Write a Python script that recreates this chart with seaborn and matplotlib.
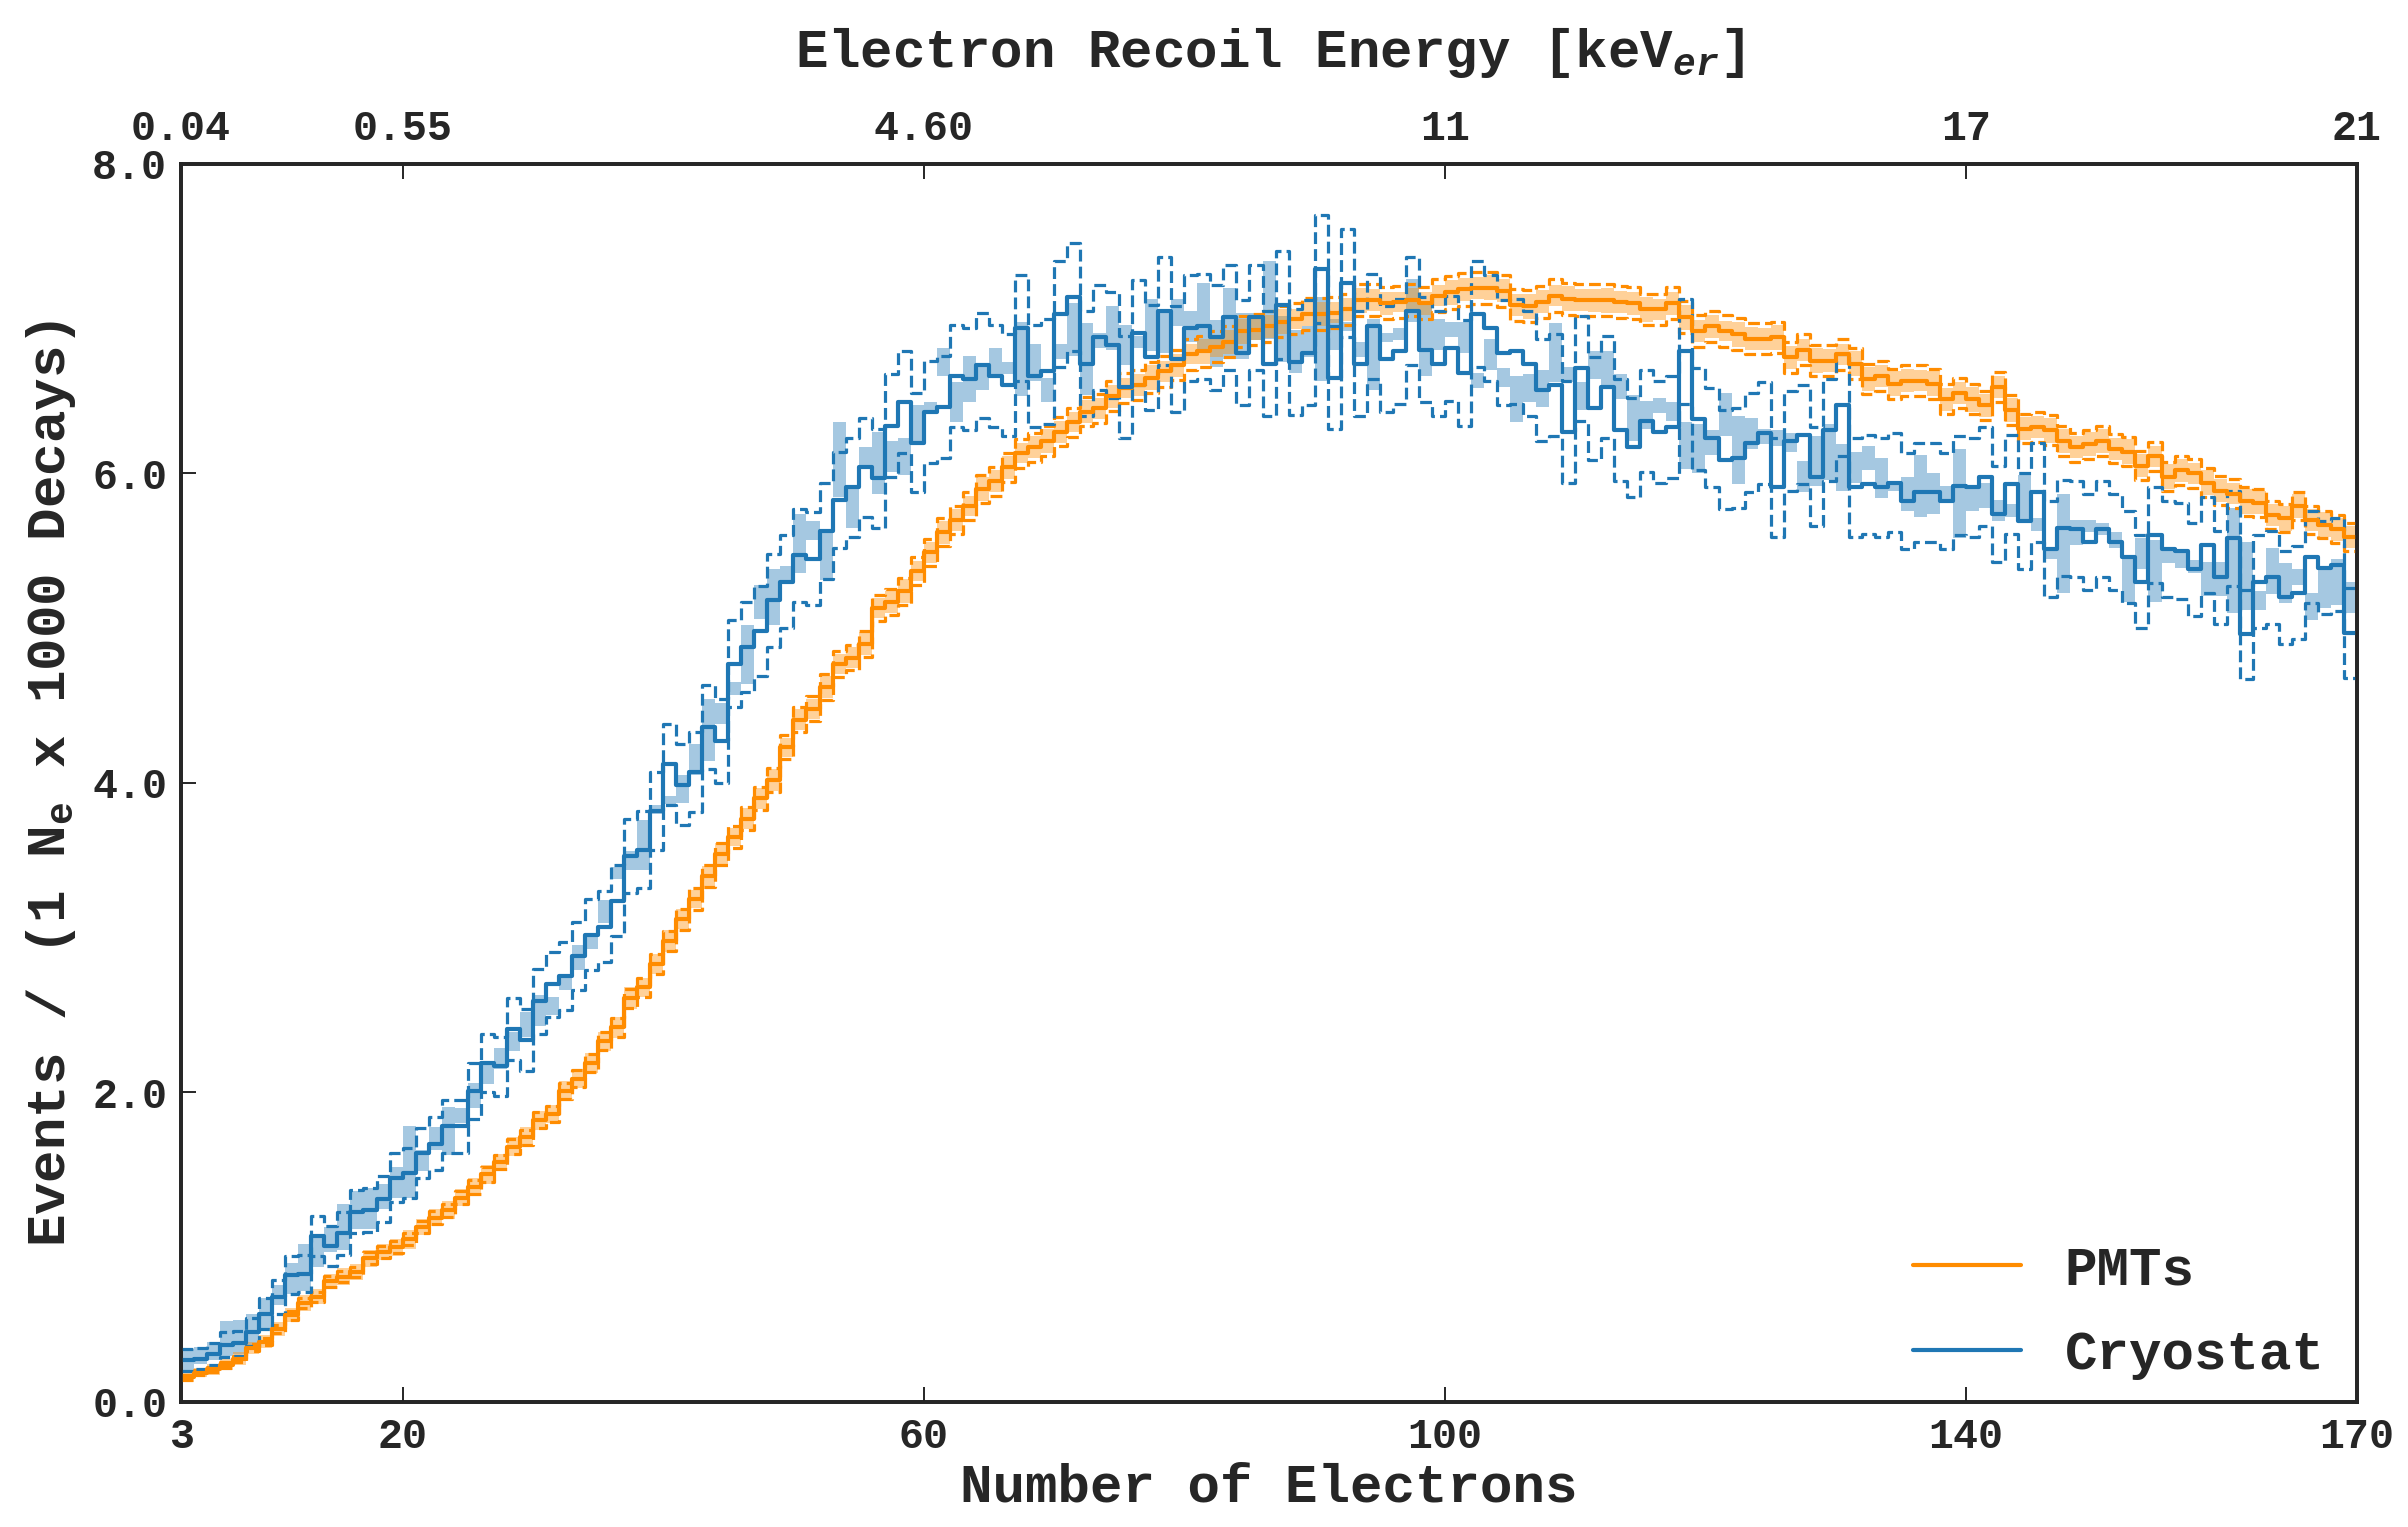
import numpy as np
import pandas as pd
import matplotlib
matplotlib.use("Agg")
import matplotlib.pyplot as plt
from matplotlib.lines import Line2D
import seaborn as sns

# ---------------- data ----------------
bin_edges_start = 3
bin_edges_stop = 170

pmt_val = [0.16, 0.19, 0.21, 0.24, 0.28, 0.35, 0.39, 0.47, 0.56, 0.64,
           0.68, 0.78, 0.81, 0.84, 0.93, 0.97, 1.00, 1.05, 1.13, 1.19,
           1.24, 1.32, 1.39, 1.47, 1.55, 1.65, 1.71, 1.82, 1.86, 2.01,
           2.09, 2.19, 2.33, 2.42, 2.61, 2.68, 2.83, 2.98, 3.12, 3.25,
           3.40, 3.54, 3.65, 3.77, 3.90, 4.02, 4.23, 4.41, 4.48, 4.62,
           4.77, 4.81, 4.90, 5.13, 5.17, 5.24, 5.37, 5.49, 5.62, 5.70,
           5.79, 5.90, 5.95, 6.04, 6.13, 6.17, 6.21, 6.27, 6.33, 6.40,
           6.42, 6.50, 6.55, 6.57, 6.62, 6.66, 6.70, 6.77, 6.79, 6.82,
           6.85, 6.92, 6.93, 6.95, 6.98, 7.00, 7.03, 7.03, 7.04, 7.06,
           7.12, 7.12, 7.10, 7.11, 7.12, 7.10, 7.15, 7.17, 7.19, 7.20,
           7.20, 7.18, 7.09, 7.08, 7.11, 7.15, 7.13, 7.12, 7.12, 7.12,
           7.11, 7.10, 7.06, 7.06, 7.10, 7.01, 6.92, 6.95, 6.92, 6.90,
           6.87, 6.87, 6.88, 6.75, 6.80, 6.73, 6.73, 6.77, 6.71, 6.61,
           6.63, 6.58, 6.60, 6.60, 6.58, 6.48, 6.52, 6.48, 6.44, 6.56,
           6.41, 6.29, 6.30, 6.28, 6.21, 6.17, 6.19, 6.21, 6.16, 6.14,
           6.05, 6.11, 5.98, 6.02, 6.00, 5.94, 5.89, 5.87, 5.82, 5.81,
           5.73, 5.71, 5.79, 5.70, 5.67, 5.64, 5.59]

pmt_err = [0.015, 0.017, 0.018, 0.019, 0.020, 0.022, 0.024, 0.026, 0.028, 0.030,
           0.031, 0.034, 0.034, 0.035, 0.037, 0.037, 0.038, 0.039, 0.040, 0.041,
           0.042, 0.044, 0.045, 0.046, 0.047, 0.049, 0.050, 0.051, 0.052, 0.054,
           0.055, 0.056, 0.058, 0.059, 0.061, 0.062, 0.064, 0.066, 0.067, 0.069,
           0.070, 0.072, 0.073, 0.074, 0.075, 0.076, 0.078, 0.080, 0.080, 0.082,
           0.083, 0.083, 0.084, 0.086, 0.086, 0.087, 0.088, 0.089, 0.090, 0.091,
           0.091, 0.092, 0.093, 0.093, 0.094, 0.094, 0.095, 0.095, 0.096, 0.096,
           0.096, 0.097, 0.097, 0.097, 0.098, 0.098, 0.098, 0.099, 0.099, 0.099,
           0.100, 0.100, 0.100, 0.101, 0.101, 0.101, 0.102, 0.102, 0.102, 0.103,
           0.104, 0.104, 0.104, 0.104, 0.104, 0.104, 0.105, 0.105, 0.105, 0.105,
           0.105, 0.105, 0.104, 0.104, 0.104, 0.104, 0.104, 0.104, 0.104, 0.104,
           0.104, 0.104, 0.103, 0.103, 0.103, 0.103, 0.102, 0.102, 0.102, 0.102,
           0.101, 0.101, 0.101, 0.100, 0.100, 0.099, 0.099, 0.099, 0.098, 0.098,
           0.098, 0.097, 0.098, 0.098, 0.097, 0.097, 0.097, 0.097, 0.096, 0.097,
           0.096, 0.095, 0.095, 0.095, 0.095, 0.094, 0.094, 0.095, 0.094, 0.094,
           0.093, 0.094, 0.093, 0.093, 0.093, 0.093, 0.092, 0.092, 0.092, 0.092,
           0.091, 0.091, 0.091, 0.091, 0.090, 0.090, 0.090]

pmt_sys = [0.030, 0.030, 0.035, 0.035, 0.040, 0.040, 0.040, 0.045, 0.045, 0.050,
           0.050, 0.050, 0.055, 0.050, 0.055, 0.050, 0.055, 0.060, 0.050, 0.055,
           0.060, 0.055, 0.060, 0.060, 0.055, 0.060, 0.065, 0.060, 0.060, 0.065,
           0.060, 0.065, 0.060, 0.065, 0.070, 0.060, 0.065, 0.070, 0.065, 0.060,
           0.065, 0.070, 0.060, 0.070, 0.065, 0.070, 0.060, 0.070, 0.065, 0.070,
           0.065, 0.070, 0.075, 0.065, 0.070, 0.075, 0.065, 0.070, 0.075, 0.070,
           0.065, 0.075, 0.070, 0.075, 0.065, 0.070, 0.075, 0.070, 0.065, 0.075,
           0.070, 0.075, 0.065, 0.070, 0.080, 0.070, 0.075, 0.065, 0.080, 0.070,
           0.075, 0.080, 0.070, 0.075, 0.080, 0.065, 0.075, 0.080, 0.070, 0.075,
           0.080, 0.070, 0.075, 0.065, 0.080, 0.075, 0.070, 0.080, 0.075, 0.070,
           0.080, 0.075, 0.070, 0.080, 0.075, 0.065, 0.080, 0.070, 0.075, 0.080,
           0.070, 0.075, 0.080, 0.070, 0.075, 0.080, 0.070, 0.075, 0.065, 0.080,
           0.075, 0.070, 0.080, 0.075, 0.070, 0.080, 0.075, 0.070, 0.080, 0.075,
           0.070, 0.080, 0.075, 0.070, 0.080, 0.075, 0.070, 0.080, 0.075, 0.070,
           0.080, 0.075, 0.070, 0.080, 0.075, 0.070, 0.080, 0.075, 0.070, 0.080,
           0.075, 0.070, 0.080, 0.075, 0.070, 0.080, 0.075, 0.070, 0.080, 0.075,
           0.070, 0.080, 0.075, 0.070, 0.080, 0.075, 0.070]

cryo_val = [0.27, 0.28, 0.31, 0.37, 0.38, 0.45, 0.57, 0.68, 0.82, 0.83,
            1.07, 1.01, 1.09, 1.23, 1.24, 1.31, 1.45, 1.48, 1.61, 1.67,
            1.78, 1.78, 2.01, 2.19, 2.17, 2.41, 2.34, 2.59, 2.70, 2.75,
            2.88, 3.02, 3.07, 3.24, 3.53, 3.57, 3.82, 4.12, 3.99, 4.07,
            4.36, 4.27, 4.77, 4.88, 4.98, 5.18, 5.30, 5.47, 5.45, 5.63,
            5.83, 5.91, 6.04, 5.97, 6.31, 6.46, 6.20, 6.40, 6.43, 6.63,
            6.61, 6.70, 6.63, 6.57, 6.94, 6.63, 6.66, 7.03, 7.14, 6.71,
            6.88, 6.83, 6.56, 6.91, 6.75, 7.05, 6.74, 6.94, 6.95, 6.88,
            7.01, 6.78, 7.01, 6.71, 7.09, 6.72, 6.78, 7.32, 6.62, 7.23,
            6.71, 6.95, 6.74, 6.79, 7.05, 6.80, 6.71, 6.81, 6.65, 7.03,
            6.94, 6.78, 6.79, 6.71, 6.54, 6.57, 6.27, 6.68, 6.42, 6.56,
            6.28, 6.17, 6.34, 6.27, 6.30, 6.79, 6.35, 6.23, 6.09, 6.10,
            6.20, 6.26, 5.91, 6.21, 6.25, 5.98, 6.28, 6.44, 5.91, 5.93,
            5.91, 5.94, 5.82, 5.88, 5.88, 5.82, 5.92, 5.91, 5.98, 5.74,
            5.93, 5.69, 5.88, 5.51, 5.65, 5.64, 5.56, 5.64, 5.56, 5.46,
            5.30, 5.60, 5.51, 5.50, 5.38, 5.54, 5.33, 5.58, 4.96, 5.30,
            5.33, 5.20, 5.23, 5.46, 5.39, 5.41, 4.97]

cryo_err = [0.07, 0.07, 0.07, 0.08, 0.08, 0.09, 0.10, 0.11, 0.12, 0.12,
            0.13, 0.13, 0.14, 0.14, 0.14, 0.15, 0.16, 0.16, 0.16, 0.17,
            0.17, 0.17, 0.18, 0.19, 0.19, 0.20, 0.20, 0.21, 0.21, 0.22,
            0.22, 0.23, 0.23, 0.23, 0.24, 0.25, 0.25, 0.26, 0.26, 0.26,
            0.27, 0.27, 0.28, 0.29, 0.29, 0.30, 0.30, 0.30, 0.30, 0.31,
            0.31, 0.32, 0.32, 0.32, 0.33, 0.33, 0.32, 0.33, 0.33, 0.33,
            0.33, 0.34, 0.33, 0.33, 0.34, 0.33, 0.34, 0.34, 0.35, 0.34,
            0.34, 0.34, 0.33, 0.34, 0.34, 0.35, 0.34, 0.34, 0.34, 0.34,
            0.34, 0.34, 0.34, 0.34, 0.35, 0.34, 0.34, 0.35, 0.33, 0.35,
            0.34, 0.34, 0.34, 0.34, 0.35, 0.34, 0.34, 0.34, 0.34, 0.34,
            0.34, 0.34, 0.34, 0.34, 0.33, 0.33, 0.33, 0.34, 0.33, 0.33,
            0.33, 0.32, 0.33, 0.33, 0.33, 0.34, 0.33, 0.32, 0.32, 0.32,
            0.32, 0.33, 0.32, 0.32, 0.32, 0.32, 0.33, 0.33, 0.32, 0.32,
            0.32, 0.32, 0.31, 0.32, 0.32, 0.31, 0.32, 0.32, 0.32, 0.31,
            0.32, 0.31, 0.32, 0.31, 0.31, 0.31, 0.31, 0.31, 0.31, 0.30,
            0.30, 0.31, 0.31, 0.31, 0.30, 0.31, 0.30, 0.31, 0.29, 0.30,
            0.30, 0.30, 0.30, 0.30, 0.30, 0.30, 0.29]

cryo_sim = [0.27, 0.30, 0.33, 0.41, 0.42, 0.47, 0.57, 0.69, 0.80, 0.87,
            0.97, 1.05, 1.13, 1.24, 1.25, 1.33, 1.42, 1.55, 1.56, 1.70,
            1.75, 1.85, 1.98, 2.12, 2.22, 2.33, 2.44, 2.53, 2.56, 2.70,
            2.87, 2.98, 3.17, 3.42, 3.50, 3.60, 3.83, 3.89, 3.96, 4.15,
            4.34, 4.45, 4.61, 4.83, 5.17, 5.20, 5.35, 5.55, 5.63, 5.47,
            6.09, 5.78, 6.10, 6.07, 6.11, 6.11, 6.32, 6.43, 6.72, 6.46,
            6.61, 6.62, 6.72, 6.68, 6.74, 6.72, 6.54, 6.79, 6.93, 6.74,
            6.86, 6.94, 6.83, 6.85, 6.96, 6.92, 7.04, 6.95, 7.01, 6.84,
            6.97, 6.89, 6.95, 7.12, 6.87, 6.79, 6.85, 6.87, 6.90, 6.95,
            6.80, 6.77, 6.88, 6.90, 7.12, 6.87, 6.90, 6.93, 6.88, 6.60,
            6.77, 6.62, 6.48, 6.55, 6.55, 6.78, 6.64, 6.50, 6.70, 6.67,
            6.56, 6.36, 6.38, 6.44, 6.40, 6.18, 6.16, 6.20, 6.38, 6.15,
            6.26, 6.24, 6.23, 6.20, 5.98, 6.08, 6.14, 6.04, 6.04, 6.10,
            5.97, 5.92, 5.87, 5.92, 5.87, 5.87, 5.87, 5.84, 5.86, 5.76,
            5.76, 5.84, 5.67, 5.48, 5.55, 5.62, 5.66, 5.64, 5.57, 5.31,
            5.48, 5.37, 5.46, 5.45, 5.40, 5.32, 5.32, 5.44, 5.34, 5.18,
            5.37, 5.29, 5.33, 5.14, 5.26, 5.30, 5.20]

cryo_sys = [0.075, 0.055, 0.060, 0.110, 0.110, 0.100, 0.100, 0.065, 0.100, 0.150,
            0.100, 0.080, 0.150, 0.120, 0.130, 0.080, 0.100, 0.230, 0.070, 0.075,
            0.155, 0.050, 0.080, 0.065, 0.070, 0.060, 0.080, 0.100, 0.060, 0.040,
            0.080, 0.050, 0.075, 0.040, 0.060, 0.160, 0.030, 0.025, 0.090, 0.100,
            0.200, 0.070, 0.040, 0.190, 0.110, 0.180, 0.050, 0.190, 0.060, 0.160,
            0.240, 0.130, 0.070, 0.200, 0.100, 0.120, 0.120, 0.030, 0.090, 0.130,
            0.150, 0.080, 0.090, 0.040, 0.240, 0.120, 0.080, 0.050, 0.170, 0.230,
            0.050, 0.140, 0.130, 0.040, 0.170, 0.140, 0.090, 0.100, 0.220, 0.150,
            0.230, 0.150, 0.090, 0.250, 0.150, 0.140, 0.100, 0.270, 0.100, 0.030,
            0.050, 0.230, 0.030, 0.040, 0.140, 0.240, 0.100, 0.050, 0.100, 0.050,
            0.100, 0.060, 0.150, 0.090, 0.120, 0.190, 0.050, 0.090, 0.090, 0.120,
            0.080, 0.150, 0.090, 0.050, 0.060, 0.150, 0.160, 0.080, 0.140, 0.220,
            0.100, 0.050, 0.050, 0.060, 0.100, 0.160, 0.180, 0.150, 0.100, 0.080,
            0.130, 0.030, 0.110, 0.200, 0.130, 0.050, 0.290, 0.080, 0.080, 0.070,
            0.040, 0.150, 0.040, 0.030, 0.320, 0.080, 0.040, 0.040, 0.050, 0.140,
            0.100, 0.200, 0.040, 0.060, 0.040, 0.110, 0.110, 0.340, 0.220, 0.060,
            0.150, 0.130, 0.050, 0.090, 0.130, 0.150, 0.100]

x_ticks = [3, 20, 60, 100, 140, 170]
x_tick_labels = ["3", "20", "60", "100", "140", "170"]
top_tick_labels = ["0.04", "0.55", "4.60", "11", "17", "21"]
y_ticks = [0, 2, 4, 6, 8]
series_names = ["PMTs", "Cryostat"]

# ---------------- style ----------------
sns.set_theme(style="ticks")
plt.rcParams["font.family"] = ["Liberation Mono", "DejaVu Sans"]
plt.rcParams["font.weight"] = "bold"
plt.rcParams["axes.labelweight"] = "bold"
plt.rcParams["mathtext.fontset"] = "custom"
plt.rcParams["mathtext.rm"] = "Liberation Mono:bold"
plt.rcParams["mathtext.bf"] = "Liberation Mono:bold"
plt.rcParams["mathtext.it"] = "Liberation Mono:italic:bold"

ORANGE = "#ff8c00"
BLUE = "#1f77b4"
LW = 1.15

fig = plt.figure(figsize=(12.04, 7.635), dpi=200)
ax = fig.add_axes([0.0752, 0.0819, 0.9036, 0.8107])

edges = np.arange(bin_edges_start, bin_edges_stop + 1)
left = edges[:-1]


def step_df(vals):
    v = np.asarray(vals, dtype=float)
    return pd.DataFrame({"x": edges, "y": np.append(v, v[-1])})


# shaded bands (per bin rectangles)
for sim, sys_, col in [(cryo_sim, cryo_sys, BLUE), (pmt_val, pmt_sys, ORANGE)]:
    sim = np.asarray(sim, float)
    sys_ = np.asarray(sys_, float)
    ax.bar(left, 2 * sys_, bottom=sim - sys_, width=1.0, align="edge",
           color=col, alpha=0.4, linewidth=0, zorder=1)

# dashed +-1 sigma and solid central steps
for vals, err, col, z in [(pmt_val, pmt_err, ORANGE, 3), (cryo_val, cryo_err, BLUE, 4)]:
    v = np.asarray(vals, float)
    e = np.asarray(err, float)
    for d in (v + e, v - e):
        df = step_df(d)
        sns.lineplot(data=df, x="x", y="y", ax=ax, color=col, lw=LW,
                     linestyle="--", drawstyle="steps-post", zorder=z,
                     legend=False, estimator=None, sort=False)
    df = step_df(v)
    sns.lineplot(data=df, x="x", y="y", ax=ax, color=col, lw=LW * 1.3,
                 drawstyle="steps-post", zorder=z + 2, legend=False,
                 estimator=None, sort=False)

ax.set_xlim(3, 170)
ax.set_ylim(0, 8)
ax.set_xticks(x_ticks)
ax.set_xticklabels(x_tick_labels)
ax.set_yticks(y_ticks)
ax.set_yticklabels([f"{t:.1f}" for t in y_ticks])
ax.tick_params(axis="both", direction="in", length=5.5, width=0.7,
               labelsize=15, pad=5.5, top=False, right=False)
ax.tick_params(axis="y", pad=5)
ax.set_xlabel("Number of Electrons", fontsize=19.5, fontweight="bold", labelpad=2)
ax.set_ylabel(r"Events / (1 N$_{\mathrm{e}}$ x 1000 Decays)", fontsize=19.5,
              fontweight="bold", labelpad=5)
for s in ax.spines.values():
    s.set_linewidth(1.3)
    s.set_color("black")
    s.set_visible(True)

ax2 = ax.twiny()
ax2.set_xlim(ax.get_xlim())
ax2.set_xticks(x_ticks)
ax2.set_xticklabels(top_tick_labels)
ax2.tick_params(axis="x", direction="in", length=5.5, width=0.7,
                labelsize=15, pad=5.5)
ax2.set_xlabel(r"Electron Recoil Energy [keV$_{er}$]", fontsize=19.5,
               fontweight="bold", labelpad=15)
for s in ax2.spines.values():
    s.set_linewidth(1.3)
ax.grid(False)
ax2.grid(False)

handles = [Line2D([], [], color=ORANGE, lw=LW * 1.3),
           Line2D([], [], color=BLUE, lw=LW * 1.3)]
leg = ax.legend(handles, series_names, loc="lower right", frameon=False,
                fontsize=19.5, handlelength=2.0, handletextpad=0.8,
                labelspacing=0.65, borderaxespad=0.0,
                bbox_to_anchor=(0.995, 0.0))
for t in leg.get_texts():
    t.set_fontweight("bold")

fig.savefig("out.png", dpi=200)
